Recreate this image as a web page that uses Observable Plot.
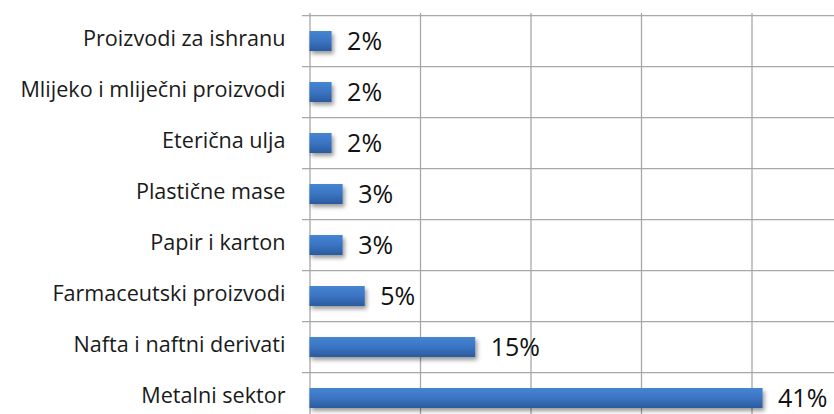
<!DOCTYPE html>
<html><head><meta charset="utf-8">
<script src="https://cdn.jsdelivr.net/npm/d3@7"></script>
<script src="https://cdn.jsdelivr.net/npm/@observablehq/plot@0.6"></script>
<style>html,body{margin:0;padding:0;background:#fff;overflow:hidden}</style>
</head><body><div id="chart"></div>
<script>
const categories = ["Proizvodi za ishranu","Mlijeko i mliječni proizvodi","Eterična ulja","Plastične mase","Papir i karton","Farmaceutski proizvodi","Nafta i naftni derivati","Metalni sektor"];
const values = [2,2,2,3,3,5,15,41];
const xTicks = [0,10,20,30,40];
const labels = values.map(v => v + "%");
const data = categories.map((c,i)=>({category:c, value:values[i], label:labels[i]}));

const W = 834, H = 414;
const yRange = [13, 426.6];
const step = (yRange[1]-yRange[0]) / categories.length;

const chart = Plot.plot({
  width: W, height: H,
  marginLeft: 302, marginRight: 0, marginTop: 13, marginBottom: 0,
  style: {fontFamily: "Open Sans", background: "#fff", color: "#1a1a1a"},
  x: {domain: [0, 50], range: [309.5, 862], axis: null},
  y: {domain: categories, range: yRange, paddingInner: 0.6, paddingOuter: 0.3, align: 0.5, axis: null, label: null},
  marks: [
    Plot.ruleY(categories, {y: d => d, dy: -step/2, stroke: "#a8a8a8", strokeWidth: 1.3, strokeOpacity: 1}),
    Plot.ruleX(xTicks, {x: d => d, stroke: "#a8a8a8", strokeWidth: 1.3, strokeOpacity: 1}),
    Plot.barX(data, {y: "category", x: "value", fill: "url(#barGrad)"}),
    Plot.text(data, {y: "category", x: "value", text: "label", textAnchor: "start", dx: 15, dy: 0, fontSize: 25, fill: "#111"}),
    Plot.axisY({tickSize: 0, tickPadding: 17, fontSize: 21.6, fill: "#1a1a1a", label: null, dy: -2})
  ]
});

const svg = d3.select(chart);
const defs = svg.insert("defs", ":first-child");
const g = defs.append("linearGradient").attr("id","barGrad").attr("x1",0).attr("y1",0).attr("x2",0).attr("y2",1);
g.append("stop").attr("offset","0%").attr("stop-color","#4685d2");
g.append("stop").attr("offset","50%").attr("stop-color","#3a74c2");
g.append("stop").attr("offset","100%").attr("stop-color","#2b5b9e");
const f = defs.append("filter").attr("id","shadow").attr("x","-5%").attr("y","-30%").attr("width","115%").attr("height","190%");
f.append("feGaussianBlur").attr("in","SourceAlpha").attr("stdDeviation",2);
f.append("feOffset").attr("dx",1.5).attr("dy",3).attr("result","off");
const ct = f.append("feComponentTransfer").attr("result","sh");
ct.append("feFuncA").attr("type","linear").attr("slope",0.4);
const m = f.append("feMerge");
m.append("feMergeNode").attr("in","sh");
m.append("feMergeNode").attr("in","SourceGraphic");
svg.selectAll("g[aria-label='bar']").attr("filter","url(#shadow)");

document.getElementById("chart").appendChild(chart);
</script></body></html>
